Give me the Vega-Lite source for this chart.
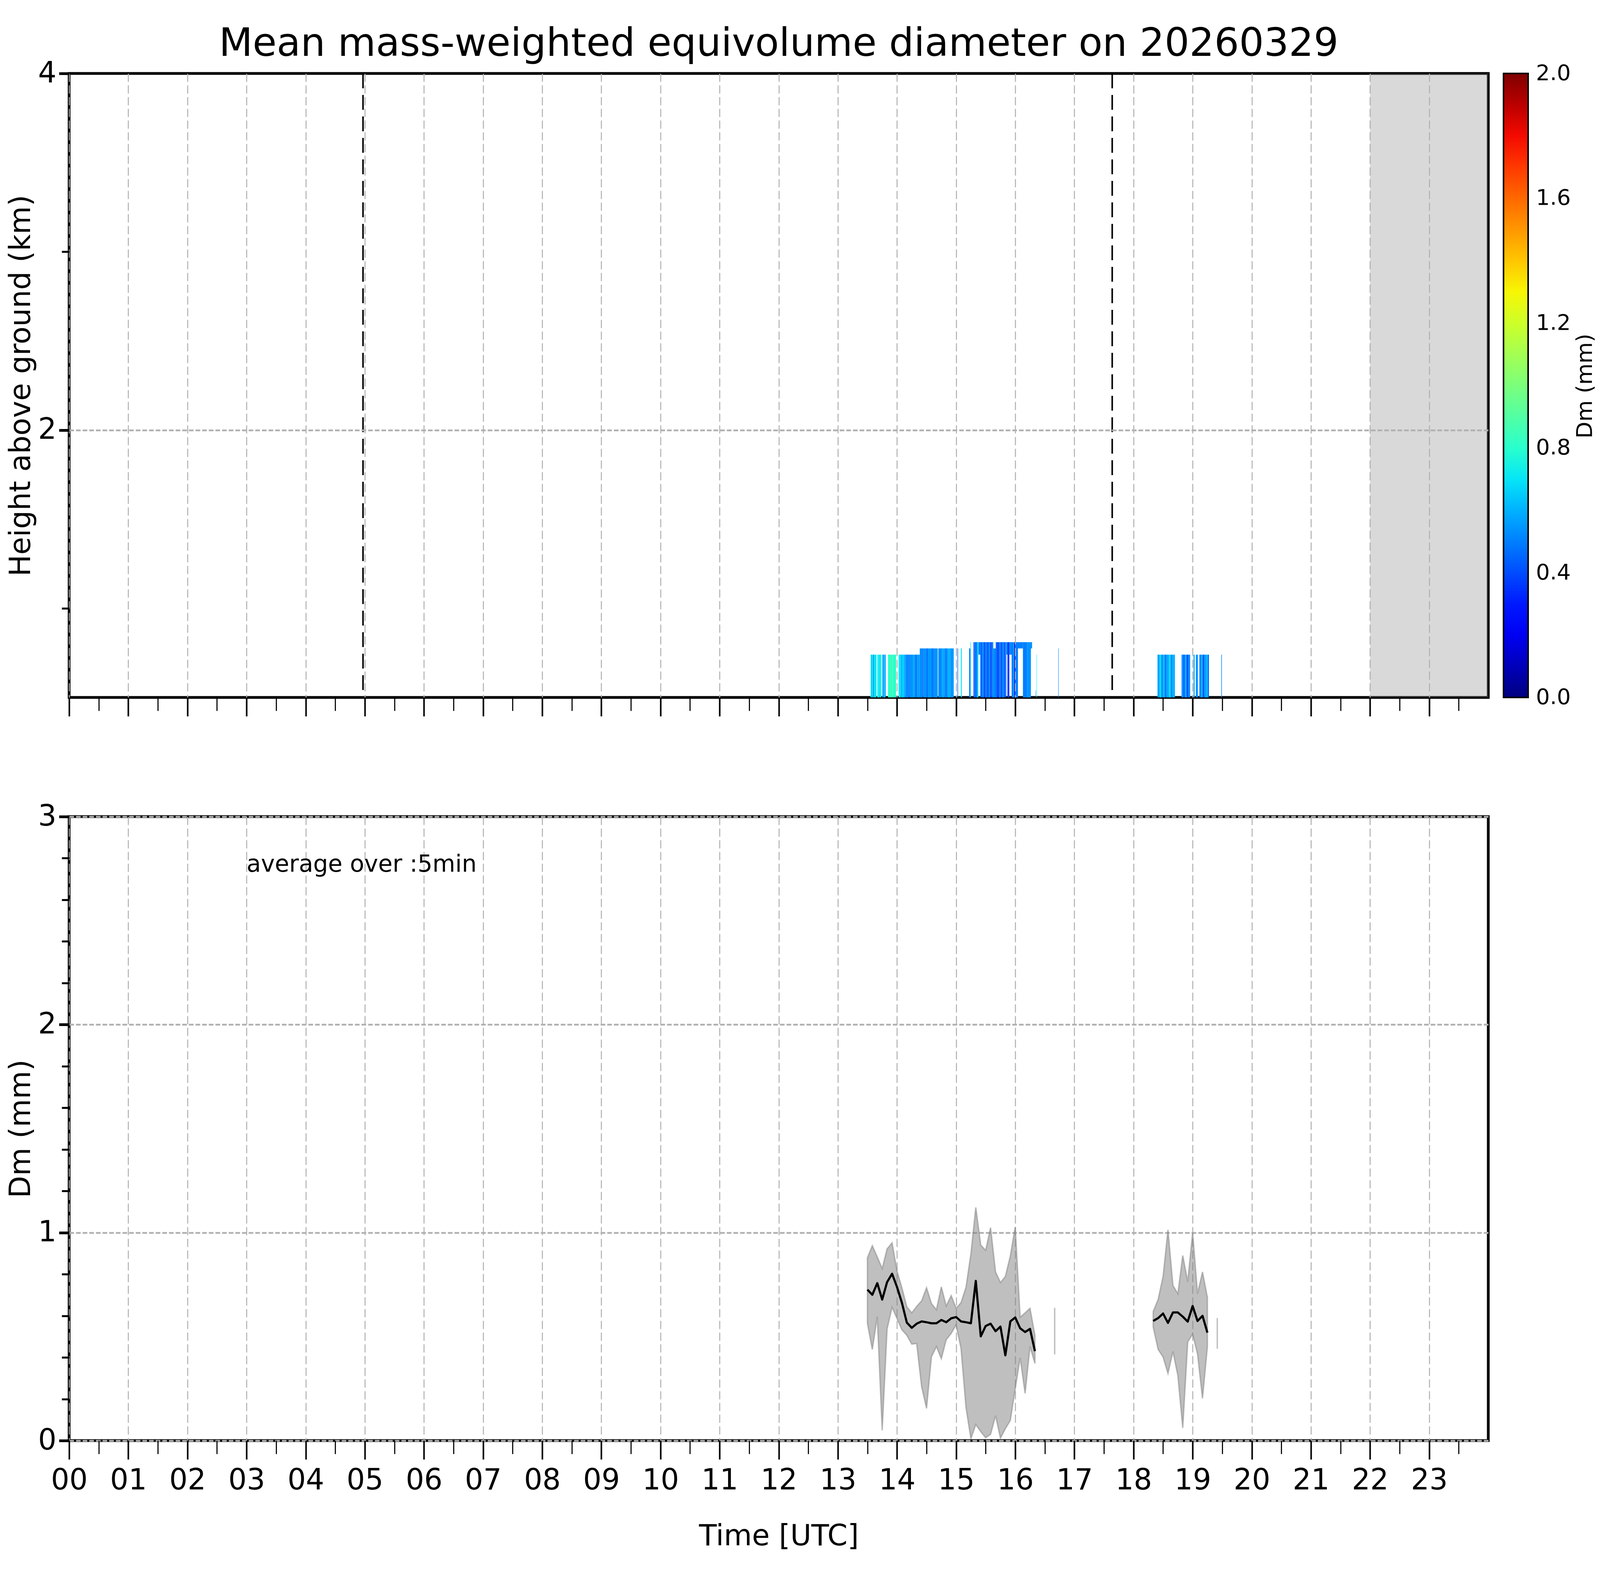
{
  "$schema": "https://vega.github.io/schema/vega-lite/v6.json",
  "background": "white",
  "padding": {"left": 14, "top": 59, "right": 3, "bottom": 3},
  "config": {
    "font": "DejaVu Sans",
    "view": {"stroke": "black", "strokeWidth": 7},
    "axis": {
      "labelFont": "DejaVu Sans", "labelFontSize": 74, "labelColor": "black",
      "titleFont": "DejaVu Sans", "titleFontSize": 74, "titleFontWeight": "normal", "titleColor": "black",
      "tickColor": "black", "domain": false,
      "labelOverlap": false, "labelFlush": false, "gridColor": "#b0b0b0"
    },
    "axisX": {"labelPadding": 18, "gridWidth": 2.5, "gridDash": [21, 9]},
    "axisY": {"labelPadding": 7, "titlePadding": 4, "gridWidth": 4.5, "gridDash": [12, 5]}
  },
  "datasets": {
    "radar": [
      {"t0": 13.553, "t1": 13.565, "h0": 0.5, "h1": 0.74, "dm": 0.78},
      {"t0": 13.565, "t1": 13.585, "h0": 0.5, "h1": 0.74, "dm": 0.62},
      {"t0": 13.585, "t1": 13.595, "h0": 0.5, "h1": 0.74, "dm": 0.72},
      {"t0": 13.595, "t1": 13.615, "h0": 0.5, "h1": 0.74, "dm": 0.58},
      {"t0": 13.615, "t1": 13.63, "h0": 0.5, "h1": 0.74, "dm": 0.74},
      {"t0": 13.63, "t1": 13.652, "h0": 0.5, "h1": 0.74, "dm": 0.66},
      {"t0": 13.666, "t1": 13.69, "h0": 0.5, "h1": 0.74, "dm": 0.75},
      {"t0": 13.69, "t1": 13.71, "h0": 0.5, "h1": 0.74, "dm": 0.68},
      {"t0": 13.71, "t1": 13.735, "h0": 0.5, "h1": 0.74, "dm": 0.72},
      {"t0": 13.75, "t1": 13.765, "h0": 0.5, "h1": 0.74, "dm": 0.62},
      {"t0": 13.765, "t1": 13.772, "h0": 0.5, "h1": 0.74, "dm": 0.35},
      {"t0": 13.772, "t1": 13.795, "h0": 0.5, "h1": 0.74, "dm": 0.66},
      {"t0": 13.795, "t1": 13.81, "h0": 0.5, "h1": 0.74, "dm": 0.55},
      {"t0": 13.848, "t1": 13.88, "h0": 0.5, "h1": 0.74, "dm": 0.8},
      {"t0": 13.88, "t1": 13.93, "h0": 0.5, "h1": 0.74, "dm": 0.84},
      {"t0": 13.93, "t1": 13.985, "h0": 0.5, "h1": 0.74, "dm": 0.8},
      {"t0": 14.027, "t1": 14.06, "h0": 0.5, "h1": 0.74, "dm": 0.7},
      {"t0": 14.06, "t1": 14.09, "h0": 0.5, "h1": 0.74, "dm": 0.62},
      {"t0": 14.09, "t1": 14.12, "h0": 0.5, "h1": 0.74, "dm": 0.66},
      {"t0": 14.12, "t1": 14.146, "h0": 0.5, "h1": 0.74, "dm": 0.58},
      {"t0": 14.146, "t1": 14.2, "h0": 0.5, "h1": 0.74, "dm": 0.52},
      {"t0": 14.2, "t1": 14.215, "h0": 0.5, "h1": 0.74, "dm": 0.45},
      {"t0": 14.215, "t1": 14.27, "h0": 0.5, "h1": 0.74, "dm": 0.54},
      {"t0": 14.27, "t1": 14.3, "h0": 0.5, "h1": 0.74, "dm": 0.58},
      {"t0": 14.3, "t1": 14.345, "h0": 0.5, "h1": 0.74, "dm": 0.5},
      {"t0": 14.345, "t1": 14.386, "h0": 0.5, "h1": 0.74, "dm": 0.56},
      {"t0": 14.386, "t1": 14.43, "h0": 0.5, "h1": 0.775, "dm": 0.52},
      {"t0": 14.43, "t1": 14.445, "h0": 0.5, "h1": 0.775, "dm": 0.44},
      {"t0": 14.445, "t1": 14.5, "h0": 0.5, "h1": 0.775, "dm": 0.54},
      {"t0": 14.5, "t1": 14.52, "h0": 0.5, "h1": 0.775, "dm": 0.46},
      {"t0": 14.52, "t1": 14.58, "h0": 0.5, "h1": 0.775, "dm": 0.55},
      {"t0": 14.58, "t1": 14.62, "h0": 0.5, "h1": 0.775, "dm": 0.49},
      {"t0": 14.62, "t1": 14.69, "h0": 0.5, "h1": 0.775, "dm": 0.54},
      {"t0": 14.7, "t1": 14.76, "h0": 0.5, "h1": 0.775, "dm": 0.52},
      {"t0": 14.76, "t1": 14.8, "h0": 0.5, "h1": 0.775, "dm": 0.58},
      {"t0": 14.8, "t1": 14.86, "h0": 0.5, "h1": 0.775, "dm": 0.52},
      {"t0": 14.86, "t1": 14.9, "h0": 0.5, "h1": 0.775, "dm": 0.6},
      {"t0": 14.9, "t1": 14.96, "h0": 0.5, "h1": 0.775, "dm": 0.55},
      {"t0": 15.023, "t1": 15.033, "h0": 0.5, "h1": 0.775, "dm": 0.48},
      {"t0": 15.08, "t1": 15.096, "h0": 0.5, "h1": 0.775, "dm": 0.7},
      {"t0": 15.22, "t1": 15.24, "h0": 0.5, "h1": 0.775, "dm": 0.5},
      {"t0": 15.242, "t1": 15.25, "h0": 0.5, "h1": 0.81, "dm": 0.7},
      {"t0": 15.294, "t1": 15.31, "h0": 0.5, "h1": 0.81, "dm": 0.4},
      {"t0": 15.31, "t1": 15.33, "h0": 0.5, "h1": 0.81, "dm": 0.52},
      {"t0": 15.33, "t1": 15.34, "h0": 0.5, "h1": 0.81, "dm": 0.3},
      {"t0": 15.34, "t1": 15.367, "h0": 0.5, "h1": 0.81, "dm": 0.56},
      {"t0": 15.367, "t1": 15.378, "h0": 0.5, "h1": 0.81, "dm": 0.75},
      {"t0": 15.378, "t1": 15.41, "h0": 0.74, "h1": 0.81, "dm": 0.5},
      {"t0": 15.41, "t1": 15.44, "h0": 0.5, "h1": 0.81, "dm": 0.44},
      {"t0": 15.44, "t1": 15.47, "h0": 0.5, "h1": 0.81, "dm": 0.52},
      {"t0": 15.47, "t1": 15.49, "h0": 0.5, "h1": 0.81, "dm": 0.36},
      {"t0": 15.49, "t1": 15.52, "h0": 0.5, "h1": 0.81, "dm": 0.5},
      {"t0": 15.52, "t1": 15.55, "h0": 0.5, "h1": 0.81, "dm": 0.42},
      {"t0": 15.55, "t1": 15.58, "h0": 0.5, "h1": 0.81, "dm": 0.52},
      {"t0": 15.58, "t1": 15.6, "h0": 0.5, "h1": 0.81, "dm": 0.34},
      {"t0": 15.6, "t1": 15.628, "h0": 0.5, "h1": 0.81, "dm": 0.5},
      {"t0": 15.628, "t1": 15.67, "h0": 0.5, "h1": 0.775, "dm": 0.52},
      {"t0": 15.67, "t1": 15.7, "h0": 0.5, "h1": 0.81, "dm": 0.46},
      {"t0": 15.7, "t1": 15.72, "h0": 0.5, "h1": 0.81, "dm": 0.3},
      {"t0": 15.72, "t1": 15.76, "h0": 0.5, "h1": 0.81, "dm": 0.5},
      {"t0": 15.76, "t1": 15.78, "h0": 0.5, "h1": 0.81, "dm": 0.36},
      {"t0": 15.78, "t1": 15.81, "h0": 0.5, "h1": 0.81, "dm": 0.52},
      {"t0": 15.81, "t1": 15.837, "h0": 0.5, "h1": 0.81, "dm": 0.42},
      {"t0": 15.84, "t1": 15.85, "h0": 0.5, "h1": 0.81, "dm": 0.46},
      {"t0": 15.85, "t1": 15.868, "h0": 0.74, "h1": 0.81, "dm": 0.52},
      {"t0": 15.868, "t1": 15.9, "h0": 0.5, "h1": 0.81, "dm": 0.36},
      {"t0": 15.9, "t1": 15.94, "h0": 0.74, "h1": 0.81, "dm": 0.52},
      {"t0": 15.94, "t1": 15.96, "h0": 0.5, "h1": 0.81, "dm": 0.45},
      {"t0": 15.96, "t1": 15.975, "h0": 0.5, "h1": 0.81, "dm": 0.62},
      {"t0": 15.975, "t1": 16.0, "h0": 0.5, "h1": 0.81, "dm": 0.36},
      {"t0": 16.0, "t1": 16.046, "h0": 0.5, "h1": 0.81, "dm": 0.5},
      {"t0": 16.046, "t1": 16.13, "h0": 0.775, "h1": 0.81, "dm": 0.5},
      {"t0": 16.13, "t1": 16.2, "h0": 0.5, "h1": 0.81, "dm": 0.5},
      {"t0": 16.2, "t1": 16.265, "h0": 0.5, "h1": 0.81, "dm": 0.54},
      {"t0": 16.265, "t1": 16.285, "h0": 0.775, "h1": 0.81, "dm": 0.52},
      {"t0": 16.345, "t1": 16.35, "h0": 0.5, "h1": 0.54, "dm": 0.52},
      {"t0": 16.36, "t1": 16.366, "h0": 0.5, "h1": 0.74, "dm": 0.7},
      {"t0": 16.728, "t1": 16.735, "h0": 0.5, "h1": 0.775, "dm": 0.52},
      {"t0": 18.405, "t1": 18.415, "h0": 0.5, "h1": 0.74, "dm": 0.6},
      {"t0": 18.415, "t1": 18.44, "h0": 0.5, "h1": 0.74, "dm": 0.55},
      {"t0": 18.44, "t1": 18.47, "h0": 0.5, "h1": 0.74, "dm": 0.68},
      {"t0": 18.47, "t1": 18.5, "h0": 0.5, "h1": 0.74, "dm": 0.52},
      {"t0": 18.5, "t1": 18.53, "h0": 0.5, "h1": 0.74, "dm": 0.62},
      {"t0": 18.53, "t1": 18.56, "h0": 0.5, "h1": 0.74, "dm": 0.48},
      {"t0": 18.56, "t1": 18.6, "h0": 0.5, "h1": 0.74, "dm": 0.58},
      {"t0": 18.6, "t1": 18.63, "h0": 0.5, "h1": 0.74, "dm": 0.68},
      {"t0": 18.63, "t1": 18.66, "h0": 0.5, "h1": 0.74, "dm": 0.52},
      {"t0": 18.66, "t1": 18.701, "h0": 0.5, "h1": 0.74, "dm": 0.6},
      {"t0": 18.812, "t1": 18.84, "h0": 0.5, "h1": 0.74, "dm": 0.55},
      {"t0": 18.84, "t1": 18.87, "h0": 0.5, "h1": 0.74, "dm": 0.44},
      {"t0": 18.87, "t1": 18.9, "h0": 0.5, "h1": 0.74, "dm": 0.58},
      {"t0": 18.9, "t1": 18.93, "h0": 0.5, "h1": 0.74, "dm": 0.4},
      {"t0": 18.93, "t1": 18.958, "h0": 0.5, "h1": 0.74, "dm": 0.52},
      {"t0": 19.015, "t1": 19.035, "h0": 0.5, "h1": 0.74, "dm": 0.6},
      {"t0": 19.056, "t1": 19.088, "h0": 0.5, "h1": 0.74, "dm": 0.52},
      {"t0": 19.115, "t1": 19.14, "h0": 0.5, "h1": 0.74, "dm": 0.48},
      {"t0": 19.14, "t1": 19.17, "h0": 0.5, "h1": 0.74, "dm": 0.6},
      {"t0": 19.17, "t1": 19.2, "h0": 0.5, "h1": 0.74, "dm": 0.42},
      {"t0": 19.2, "t1": 19.23, "h0": 0.5, "h1": 0.74, "dm": 0.56},
      {"t0": 19.23, "t1": 19.255, "h0": 0.5, "h1": 0.74, "dm": 0.62},
      {"t0": 19.255, "t1": 19.276, "h0": 0.5, "h1": 0.74, "dm": 0.46},
      {"t0": 19.485, "t1": 19.495, "h0": 0.5, "h1": 0.74, "dm": 0.52}
    ],
    "dm": [
      {"seg": "a", "t": 13.5, "mean": 0.726, "lo": 0.564, "hi": 0.879},
      {"seg": "a", "t": 13.583, "mean": 0.701, "lo": 0.438, "hi": 0.937},
      {"seg": "a", "t": 13.667, "mean": 0.757, "lo": 0.596, "hi": 0.883},
      {"seg": "a", "t": 13.75, "mean": 0.678, "lo": 0.049, "hi": 0.827},
      {"seg": "a", "t": 13.833, "mean": 0.762, "lo": 0.537, "hi": 0.922},
      {"seg": "a", "t": 13.917, "mean": 0.802, "lo": 0.641, "hi": 0.951},
      {"seg": "a", "t": 14.0, "mean": 0.739, "lo": 0.587, "hi": 0.816},
      {"seg": "a", "t": 14.083, "mean": 0.663, "lo": 0.533, "hi": 0.735},
      {"seg": "a", "t": 14.167, "mean": 0.567, "lo": 0.506, "hi": 0.643},
      {"seg": "a", "t": 14.25, "mean": 0.542, "lo": 0.464, "hi": 0.614},
      {"seg": "a", "t": 14.333, "mean": 0.562, "lo": 0.467, "hi": 0.645},
      {"seg": "a", "t": 14.417, "mean": 0.573, "lo": 0.259, "hi": 0.672},
      {"seg": "a", "t": 14.5, "mean": 0.569, "lo": 0.155, "hi": 0.735},
      {"seg": "a", "t": 14.583, "mean": 0.564, "lo": 0.403, "hi": 0.659},
      {"seg": "a", "t": 14.667, "mean": 0.564, "lo": 0.452, "hi": 0.629},
      {"seg": "a", "t": 14.75, "mean": 0.58, "lo": 0.394, "hi": 0.739},
      {"seg": "a", "t": 14.833, "mean": 0.569, "lo": 0.485, "hi": 0.647},
      {"seg": "a", "t": 14.917, "mean": 0.588, "lo": 0.515, "hi": 0.697},
      {"seg": "a", "t": 15.0, "mean": 0.594, "lo": 0.557, "hi": 0.636},
      {"seg": "a", "t": 15.083, "mean": 0.573, "lo": 0.443, "hi": 0.663},
      {"seg": "a", "t": 15.167, "mean": 0.569, "lo": 0.16, "hi": 0.737},
      {"seg": "a", "t": 15.25, "mean": 0.564, "lo": 0.009, "hi": 0.897},
      {"seg": "a", "t": 15.333, "mean": 0.768, "lo": 0.077, "hi": 1.121},
      {"seg": "a", "t": 15.417, "mean": 0.501, "lo": 0.043, "hi": 0.94},
      {"seg": "a", "t": 15.5, "mean": 0.551, "lo": 0.014, "hi": 0.915},
      {"seg": "a", "t": 15.583, "mean": 0.562, "lo": 0.03, "hi": 1.024},
      {"seg": "a", "t": 15.667, "mean": 0.526, "lo": 0.12, "hi": 0.811},
      {"seg": "a", "t": 15.75, "mean": 0.548, "lo": 0.012, "hi": 0.76},
      {"seg": "a", "t": 15.833, "mean": 0.41, "lo": 0.057, "hi": 0.789},
      {"seg": "a", "t": 15.917, "mean": 0.573, "lo": 0.097, "hi": 0.888},
      {"seg": "a", "t": 16.0, "mean": 0.592, "lo": 0.25, "hi": 1.027},
      {"seg": "a", "t": 16.083, "mean": 0.54, "lo": 0.398, "hi": 0.593},
      {"seg": "a", "t": 16.167, "mean": 0.522, "lo": 0.227, "hi": 0.614},
      {"seg": "a", "t": 16.25, "mean": 0.537, "lo": 0.452, "hi": 0.636},
      {"seg": "a", "t": 16.333, "mean": 0.43, "lo": 0.371, "hi": 0.506},
      {"seg": "b", "t": 16.667, "mean": null, "lo": 0.414, "hi": 0.638},
      {"seg": "c", "t": 18.333, "mean": 0.575, "lo": 0.546, "hi": 0.62},
      {"seg": "c", "t": 18.417, "mean": 0.589, "lo": 0.438, "hi": 0.679},
      {"seg": "c", "t": 18.5, "mean": 0.611, "lo": 0.402, "hi": 0.789},
      {"seg": "c", "t": 18.583, "mean": 0.566, "lo": 0.323, "hi": 1.013},
      {"seg": "c", "t": 18.667, "mean": 0.616, "lo": 0.428, "hi": 0.746},
      {"seg": "c", "t": 18.75, "mean": 0.616, "lo": 0.313, "hi": 0.706},
      {"seg": "c", "t": 18.833, "mean": 0.596, "lo": 0.061, "hi": 0.89},
      {"seg": "c", "t": 18.917, "mean": 0.572, "lo": 0.474, "hi": 0.764},
      {"seg": "c", "t": 19.0, "mean": 0.647, "lo": 0.512, "hi": 1.0},
      {"seg": "c", "t": 19.083, "mean": 0.575, "lo": 0.416, "hi": 0.706},
      {"seg": "c", "t": 19.167, "mean": 0.6, "lo": 0.203, "hi": 0.811},
      {"seg": "c", "t": 19.25, "mean": 0.519, "lo": 0.452, "hi": 0.688},
      {"seg": "d", "t": 19.417, "mean": null, "lo": 0.442, "hi": 0.589}
    ]
  },
  "bounds": "flush",
  "spacing": 305,
  "resolve": {"legend": {"color": "independent"}},
  "vconcat": [
    {
      "width": 3633,
      "height": 1597,
      "title": {
        "text": "Mean mass-weighted equivolume diameter on 20260329",
        "font": "DejaVu Sans", "fontSize": 100, "fontWeight": "normal", "color": "black",
        "anchor": "middle", "frame": "group", "baseline": "alphabetic", "offset": -92
      },
      "layer": [
        {
          "data": {"name": "radar"},
          "mark": {"type": "rect", "strokeWidth": 0},
          "encoding": {
            "x": {
              "field": "t0", "type": "quantitative",
              "scale": {"domain": [0, 24], "nice": false, "zero": false},
              "axis": {
                "title": null, "labels": false, "zindex": 1,
                "values": [0,0.25,0.5,0.75,1,1.25,1.5,1.75,2,2.25,2.5,2.75,3,3.25,3.5,3.75,4,4.25,4.5,4.75,5,5.25,5.5,5.75,6,6.25,6.5,6.75,7,7.25,7.5,7.75,8,8.25,8.5,8.75,9,9.25,9.5,9.75,10,10.25,10.5,10.75,11,11.25,11.5,11.75,12,12.25,12.5,12.75,13,13.25,13.5,13.75,14,14.25,14.5,14.75,15,15.25,15.5,15.75,16,16.25,16.5,16.75,17,17.25,17.5,17.75,18,18.25,18.5,18.75,19,19.25,19.5,19.75,20,20.25,20.5,20.75,21,21.25,21.5,21.75,22,22.25,22.5,22.75,23,23.25,23.5,23.75],
                "tickSize": {"condition": {"test": "datum.value % 1 === 0", "value": 48}, "value": 34},
                "tickWidth": {"condition": {"test": "datum.value % 1 === 0", "value": 4}, "value": 2.8},
                "gridOpacity": {"condition": {"test": "datum.value % 1 === 0", "value": 1}, "value": 0}
              }
            },
            "x2": {"field": "t1"},
            "y": {
              "field": "h0", "type": "quantitative",
              "scale": {"domain": [0.5, 4], "nice": false, "zero": false},
              "axis": {
                "title": "Height above ground (km)", "zindex": 1,
                "values": [1, 2, 3, 4],
                "labelExpr": "datum.value % 2 === 0 ? format(datum.value, 'd') : ''",
                "tickSize": {"condition": {"test": "datum.value % 2 === 0", "value": 26}, "value": 19},
                "tickWidth": {"condition": {"test": "datum.value % 2 === 0", "value": 7}, "value": 5},
                "gridOpacity": {"condition": {"test": "datum.value === 2", "value": 1}, "value": 0}
              }
            },
            "y2": {"field": "h1"},
            "color": {
              "field": "dm", "type": "quantitative",
              "scale": {
                "type": "linear", "interpolate": "rgb",
                "domain": [0, 0.22, 0.25, 0.68, 0.75, 1.28, 1.32, 1.78, 1.82, 2],
                "range": ["#000080", "#0000ff", "#0000ff", "#00dbff", "#14ffe2", "#eeff08", "#ffec00", "#ff1300", "#e80000", "#800000"]
              },
              "legend": {
                "orient": "right", "offset": 39, "direction": "vertical",
                "gradientLength": 1597, "gradientThickness": 63,
                "gradientStrokeColor": "black", "gradientStrokeWidth": 4,
                "values": [0, 0.4, 0.8, 1.2, 1.6, 2.0], "format": ".1f",
                "labelFont": "DejaVu Sans", "labelFontSize": 56, "labelColor": "black", "labelOffset": 20,
                "labelOverlap": false, "labelBaseline": "middle",
                "title": "Dm (mm)", "titleOrient": "right", "titleAnchor": "middle", "titleLimit": 2000,
                "titleFont": "DejaVu Sans", "titleFontSize": 56, "titleFontWeight": "normal", "titleColor": "black", "titlePadding": 10,
                "encode": {
                  "title": {"update": {"angle": {"value": 270}, "baseline": {"value": "top"}}},
                  "labels": {"update": {"baseline": {"value": "middle"}}}
                }
              }
            }
          }
        },
        {
          "data": {"values": [{"s0": 22, "s1": 24}]},
          "mark": {"type": "rect", "color": "#808080", "opacity": 0.3},
          "encoding": {
            "x": {"field": "s0", "type": "quantitative"},
            "x2": {"field": "s1"}
          }
        },
        {
          "data": {"values": [{"t": 4.97}, {"t": 17.64}]},
          "mark": {"type": "rule", "color": "black", "strokeWidth": 4, "strokeDash": [38, 17]},
          "encoding": {
            "x": {"field": "t", "type": "quantitative"}
          }
        }
      ]
    },
    {
      "width": 3633,
      "height": 1597,
      "data": {"name": "dm"},
      "layer": [
        {
          "mark": {"type": "area", "fill": "#808080", "fillOpacity": 0.5, "stroke": "#808080", "strokeOpacity": 0.5, "strokeWidth": 3.5},
          "encoding": {
            "x": {
              "field": "t", "type": "quantitative",
              "scale": {"domain": [0, 24], "nice": false, "zero": false},
              "axis": {
                "title": "Time [UTC]", "titlePadding": 70,
                "values": [0,0.25,0.5,0.75,1,1.25,1.5,1.75,2,2.25,2.5,2.75,3,3.25,3.5,3.75,4,4.25,4.5,4.75,5,5.25,5.5,5.75,6,6.25,6.5,6.75,7,7.25,7.5,7.75,8,8.25,8.5,8.75,9,9.25,9.5,9.75,10,10.25,10.5,10.75,11,11.25,11.5,11.75,12,12.25,12.5,12.75,13,13.25,13.5,13.75,14,14.25,14.5,14.75,15,15.25,15.5,15.75,16,16.25,16.5,16.75,17,17.25,17.5,17.75,18,18.25,18.5,18.75,19,19.25,19.5,19.75,20,20.25,20.5,20.75,21,21.25,21.5,21.75,22,22.25,22.5,22.75,23,23.25,23.5,23.75],
                "labelExpr": "datum.value % 1 === 0 ? (datum.value < 10 ? '0' : '') + datum.value : ''",
                "tickSize": {"condition": {"test": "datum.value % 1 === 0", "value": 48}, "value": 34},
                "tickWidth": {"condition": {"test": "datum.value % 1 === 0", "value": 4}, "value": 2.8},
                "gridOpacity": {"condition": {"test": "datum.value % 1 === 0", "value": 1}, "value": 0}
              }
            },
            "y": {
              "field": "lo", "type": "quantitative",
              "scale": {"domain": [0, 3], "nice": false, "zero": false},
              "axis": {
                "title": "Dm (mm)",
                "values": [0,0.2,0.4,0.6,0.8,1,1.2,1.4,1.6,1.8,2,2.2,2.4,2.6,2.8,3],
                "labelExpr": "abs(datum.value - round(datum.value)) < 0.001 ? format(datum.value, '.0f') : ''",
                "tickSize": {"condition": {"test": "abs(datum.value - round(datum.value)) < 0.001", "value": 26}, "value": 19},
                "tickWidth": {"condition": {"test": "abs(datum.value - round(datum.value)) < 0.001", "value": 7}, "value": 5},
                "gridOpacity": {"condition": {"test": "abs(datum.value - round(datum.value)) < 0.001", "value": 1}, "value": 0}
              }
            },
            "y2": {"field": "hi"},
            "detail": {"field": "seg"}
          }
        },
        {
          "mark": {"type": "line", "color": "black", "strokeWidth": 5.5, "strokeJoin": "round"},
          "encoding": {
            "x": {"field": "t", "type": "quantitative"},
            "y": {"field": "mean", "type": "quantitative"},
            "detail": {"field": "seg"}
          }
        },
        {
          "data": {"values": [{"note": "average over :5min"}]},
          "mark": {"type": "text", "align": "left", "baseline": "alphabetic", "font": "DejaVu Sans", "fontSize": 60, "color": "black"},
          "encoding": {
            "x": {"datum": 3, "type": "quantitative"},
            "y": {"datum": 2.735, "type": "quantitative"},
            "text": {"field": "note"}
          }
        }
      ]
    }
  ]
}
